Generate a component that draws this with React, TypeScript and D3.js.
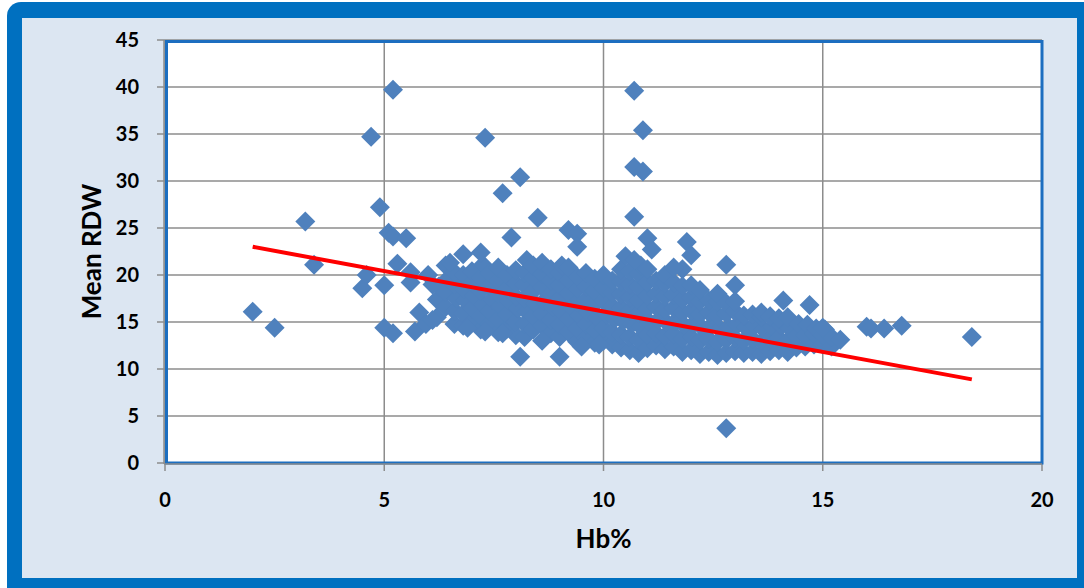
import React from 'react';
import * as d3 from 'd3';

// isolated points: [Hb%, mean RDW]
const outliers: [number, number][] = [
  [2.0, 16.1], [2.5, 14.4], [3.2, 25.7], [3.4, 21.1], [4.7, 34.7], [5.2, 39.7],
  [4.9, 27.2], [4.5, 18.6], [4.6, 20.0], [5.0, 18.9], [5.1, 24.5], [5.2, 24.1],
  [5.5, 23.9], [5.3, 21.2], [5.6, 20.3], [5.6, 19.2], [5.0, 14.4], [5.2, 13.8],
  [5.7, 14.0], [5.8, 16.0], [5.95, 14.8], [6.0, 20.0], [6.1, 19.0], [6.1, 15.2],
  [6.5, 21.3], [6.8, 22.2], [7.2, 22.4], [7.3, 34.6], [7.7, 28.7], [8.1, 30.4],
  [7.9, 24.0], [8.5, 26.1], [8.1, 11.3], [9.0, 11.3], [9.2, 24.8], [9.4, 24.4],
  [9.4, 23.0], [10.7, 39.6], [10.9, 35.4], [10.7, 31.5], [10.9, 31.0], [10.7, 26.2],
  [11.0, 23.9], [11.1, 22.7], [11.9, 23.5], [12.0, 22.1], [12.8, 21.1], [13.0, 18.9],
  [14.1, 17.3], [14.7, 16.8], [15.0, 14.4], [15.4, 13.1], [16.0, 14.5], [16.1, 14.3],
  [16.4, 14.3], [16.8, 14.6], [18.4, 13.4], [12.8, 3.7],
  [8.6, 13.0], [9.5, 12.4], [9.9, 12.6], [7.3, 14.0], [7.7, 13.8], [6.9, 14.4],
  [10.5, 22.0], [10.7, 21.6], [11.6, 20.8],
];

// the dense band of points, read column by column
const cluster: [number, number][] = [
  [6.2, 15.5], [6.2, 17.4], [6.25, 18.8],
  [6.4, 16.6], [6.4, 18.2], [6.45, 19.6], [6.4, 21.0],
  [6.6, 14.8], [6.6, 16.2], [6.65, 17.5], [6.6, 19.0], [6.6, 20.3],
  [6.8, 14.6], [6.8, 15.9], [6.85, 17.3], [6.8, 18.5], [6.8, 20.0],
  [7.0, 15.0], [7.0, 16.4], [7.05, 17.8], [7.0, 19.2], [7.0, 20.4],
  [7.2, 14.2], [7.2, 15.6], [7.25, 16.9], [7.2, 18.3], [7.2, 19.7], [7.25, 21.1],
  [7.4, 14.8], [7.4, 16.2], [7.45, 17.4], [7.4, 18.8], [7.4, 20.2],
  [7.6, 13.9], [7.6, 15.3], [7.65, 16.7], [7.6, 18.0], [7.6, 19.4], [7.6, 20.8],
  [7.8, 14.3], [7.8, 15.8], [7.85, 17.2], [7.8, 18.6], [7.8, 20.0],
  [8.0, 13.6], [8.0, 15.0], [8.05, 16.4], [8.0, 17.7], [8.0, 19.1], [8.0, 20.5],
  [8.2, 13.4], [8.2, 14.8], [8.25, 16.1], [8.2, 17.5], [8.2, 18.9], [8.2, 20.2], [8.25, 21.6],
  [8.4, 14.2], [8.4, 15.6], [8.45, 16.9], [8.4, 18.3], [8.4, 19.7], [8.4, 21.0],
  [8.6, 14.6], [8.6, 15.9], [8.65, 17.3], [8.6, 18.7], [8.6, 20.1], [8.6, 21.3],
  [8.8, 13.8], [8.8, 15.2], [8.85, 16.6], [8.8, 18.0], [8.8, 19.4], [8.8, 20.6],
  [9.0, 13.4], [9.0, 14.7], [9.05, 16.1], [9.0, 17.5], [9.0, 18.9], [9.0, 20.2], [9.05, 21.0],
  [9.2, 13.9], [9.2, 15.3], [9.25, 16.7], [9.2, 18.1], [9.2, 19.5], [9.2, 20.8],
  [9.4, 12.9], [9.4, 14.3], [9.45, 15.7], [9.4, 17.1], [9.4, 18.5], [9.4, 19.8],
  [9.6, 13.3], [9.6, 14.7], [9.65, 16.0], [9.6, 17.4], [9.6, 18.8], [9.6, 20.2],
  [9.8, 12.8], [9.8, 14.1], [9.85, 15.5], [9.8, 16.9], [9.8, 18.3], [9.8, 19.6],
  [10.0, 13.0], [10.0, 14.4], [10.05, 15.8], [10.0, 17.2], [10.0, 18.6], [10.0, 20.0],
  [10.2, 12.6], [10.2, 13.9], [10.25, 15.3], [10.2, 16.7], [10.2, 18.1], [10.2, 19.4],
  [10.4, 12.3], [10.4, 13.7], [10.45, 15.1], [10.4, 16.5], [10.4, 17.9], [10.4, 19.3], [10.4, 20.6],
  [10.6, 12.0], [10.6, 13.4], [10.65, 14.8], [10.6, 16.2], [10.6, 17.6], [10.6, 19.0], [10.6, 20.4],
  [10.8, 11.7], [10.8, 13.1], [10.85, 14.5], [10.8, 15.9], [10.8, 17.3], [10.8, 18.7], [10.8, 20.1], [10.85, 21.0],
  [11.0, 12.2], [11.0, 13.6], [11.05, 15.0], [11.0, 16.4], [11.0, 17.8], [11.0, 19.2], [11.0, 20.6],
  [11.2, 12.5], [11.2, 13.8], [11.25, 15.2], [11.2, 16.6], [11.2, 18.0], [11.2, 19.4],
  [11.4, 12.1], [11.4, 13.5], [11.45, 14.9], [11.4, 16.3], [11.4, 17.7], [11.4, 19.1], [11.4, 20.0],
  [11.6, 12.4], [11.6, 13.7], [11.65, 15.1], [11.6, 16.5], [11.6, 17.9], [11.6, 19.2],
  [11.8, 11.8], [11.8, 13.2], [11.85, 14.6], [11.8, 16.0], [11.8, 17.4], [11.8, 18.8], [11.8, 20.6],
  [12.0, 12.0], [12.0, 13.4], [12.05, 14.8], [12.0, 16.2], [12.0, 17.6], [12.0, 18.9],
  [12.2, 11.6], [12.2, 13.0], [12.25, 14.4], [12.2, 15.8], [12.2, 17.2], [12.2, 18.4],
  [12.4, 11.8], [12.4, 13.2], [12.45, 14.6], [12.4, 16.0], [12.4, 17.3],
  [12.6, 11.5], [12.6, 12.9], [12.65, 14.3], [12.6, 15.7], [12.6, 17.1], [12.6, 18.0],
  [12.8, 11.7], [12.8, 13.1], [12.85, 14.5], [12.8, 15.9], [12.8, 17.0],
  [13.0, 11.9], [13.0, 13.3], [13.05, 14.7], [13.0, 16.1], [13.0, 17.2],
  [13.2, 11.7], [13.2, 13.0], [13.25, 14.4], [13.2, 15.7],
  [13.4, 11.8], [13.4, 13.2], [13.45, 14.6], [13.4, 15.8],
  [13.6, 11.6], [13.6, 12.9], [13.65, 14.2], [13.6, 15.5], [13.6, 16.0],
  [13.8, 11.9], [13.8, 13.2], [13.85, 14.5], [13.8, 15.6],
  [14.0, 12.0], [14.0, 13.3], [14.05, 14.6], [14.0, 15.4],
  [14.2, 11.8], [14.2, 13.0], [14.25, 14.3], [14.2, 15.5],
  [14.4, 12.3], [14.4, 13.5], [14.45, 14.8],
  [14.6, 12.4], [14.6, 13.6], [14.65, 14.7],
  [14.8, 12.6], [14.8, 13.8], [14.85, 14.3],
  [15.0, 12.6], [15.0, 13.6], [15.05, 14.2],
  [15.2, 12.4], [15.2, 13.4],
];

// linear trend line (read from its ends: 23.0 at Hb 2, 8.9 at Hb 18.4)
const trendHb = [2.0, 18.4];
const trendIntercept = 24.72;
const trendSlope = -0.86;

const xTicks = [0, 5, 10, 15, 20];
const yTicks = [0, 5, 10, 15, 20, 25, 30, 35, 40, 45];

const W = 1084;
const H = 588;
const plot = { left: 165, right: 1042, top: 40, bottom: 463 };

const App = () => {
  const x = d3.scaleLinear().domain([0, 20]).range([plot.left, plot.right]);
  const y = d3.scaleLinear().domain([0, 45]).range([plot.bottom, plot.top]);

  const diamond = d3.symbol().type(d3.symbolSquare).size(200)() as string;
  const points = [...cluster, ...outliers];

  const trendLine = d3
    .line<number>()
    .x((d) => x(d))
    .y((d) => y(trendIntercept + trendSlope * d));

  const font = 'Lato, "Open Sans", sans-serif';

  return (
    <svg
      width={W}
      height={H}
      style={{ position: 'absolute', left: 0, top: 0 }}
      fontFamily={font}
    >
      {/* outer frame */}
      <rect x={7} y={2} width={W + 20} height={H + 20} rx={14} fill="#0070C0" />
      <rect x={22} y={18} width={1055} height={560} fill="#DCE6F2" />

      {/* plot area */}
      <rect
        x={plot.left}
        y={plot.top}
        width={plot.right - plot.left}
        height={plot.bottom - plot.top}
        fill="#fff"
      />

      {/* gridlines */}
      {yTicks.map((t) => (
        <line
          key={'gy' + t}
          x1={plot.left - 8}
          x2={plot.right}
          y1={y(t)}
          y2={y(t)}
          stroke="#8c8c8c"
          strokeWidth={1.5}
        />
      ))}
      {xTicks.map((t) => (
        <line
          key={'gx' + t}
          x1={x(t)}
          x2={x(t)}
          y1={plot.top}
          y2={plot.bottom + 8}
          stroke="#8c8c8c"
          strokeWidth={1.5}
        />
      ))}

      {/* plot border */}
      <rect
        x={plot.left + 1.5}
        y={plot.top + 1.5}
        width={plot.right - plot.left - 1.5}
        height={plot.bottom - plot.top - 1.5}
        fill="none"
        stroke="#1C6EC0"
        strokeWidth={3}
      />
      <line x1={plot.left - 1} x2={plot.left - 1} y1={plot.top} y2={plot.bottom + 1} stroke="#8c8c8c" strokeWidth={1.5} />
      <line x1={plot.left - 1} x2={plot.right} y1={plot.bottom + 1} y2={plot.bottom + 1} stroke="#8c8c8c" strokeWidth={1.5} />

      {/* points */}
      {points.map(([hb, rdw], i) => (
        <path
          key={i}
          d={diamond}
          transform={`translate(${x(hb)},${y(rdw)}) rotate(45)`}
          fill="#4F81BD"
        />
      ))}

      {/* trend */}
      <path d={trendLine(trendHb) as string} fill="none" stroke="#FF0000" strokeWidth={4} />

      {/* tick labels */}
      {yTicks.map((t) => (
        <text
          key={'ly' + t}
          x={139}
          y={y(t) + 7}
          textAnchor="end"
          fontSize={20}
          fontWeight="bold"
          fill="#000"
        >
          {t}
        </text>
      ))}
      {xTicks.map((t) => (
        <text
          key={'lx' + t}
          x={x(t)}
          y={507}
          textAnchor="middle"
          fontSize={20}
          fontWeight="bold"
          fill="#000"
        >
          {t}
        </text>
      ))}

      {/* axis titles */}
      <text
        transform={`translate(101,${(plot.top + plot.bottom) / 2}) rotate(-90)`}
        textAnchor="middle"
        fontSize={26}
        fontWeight="bold"
        fill="#000"
      >
        Mean RDW
      </text>
      <text x={(plot.left + plot.right) / 2} y={548} textAnchor="middle" fontSize={26} fontWeight="bold" fill="#000">
        Hb%
      </text>
    </svg>
  );
};

export default App;
